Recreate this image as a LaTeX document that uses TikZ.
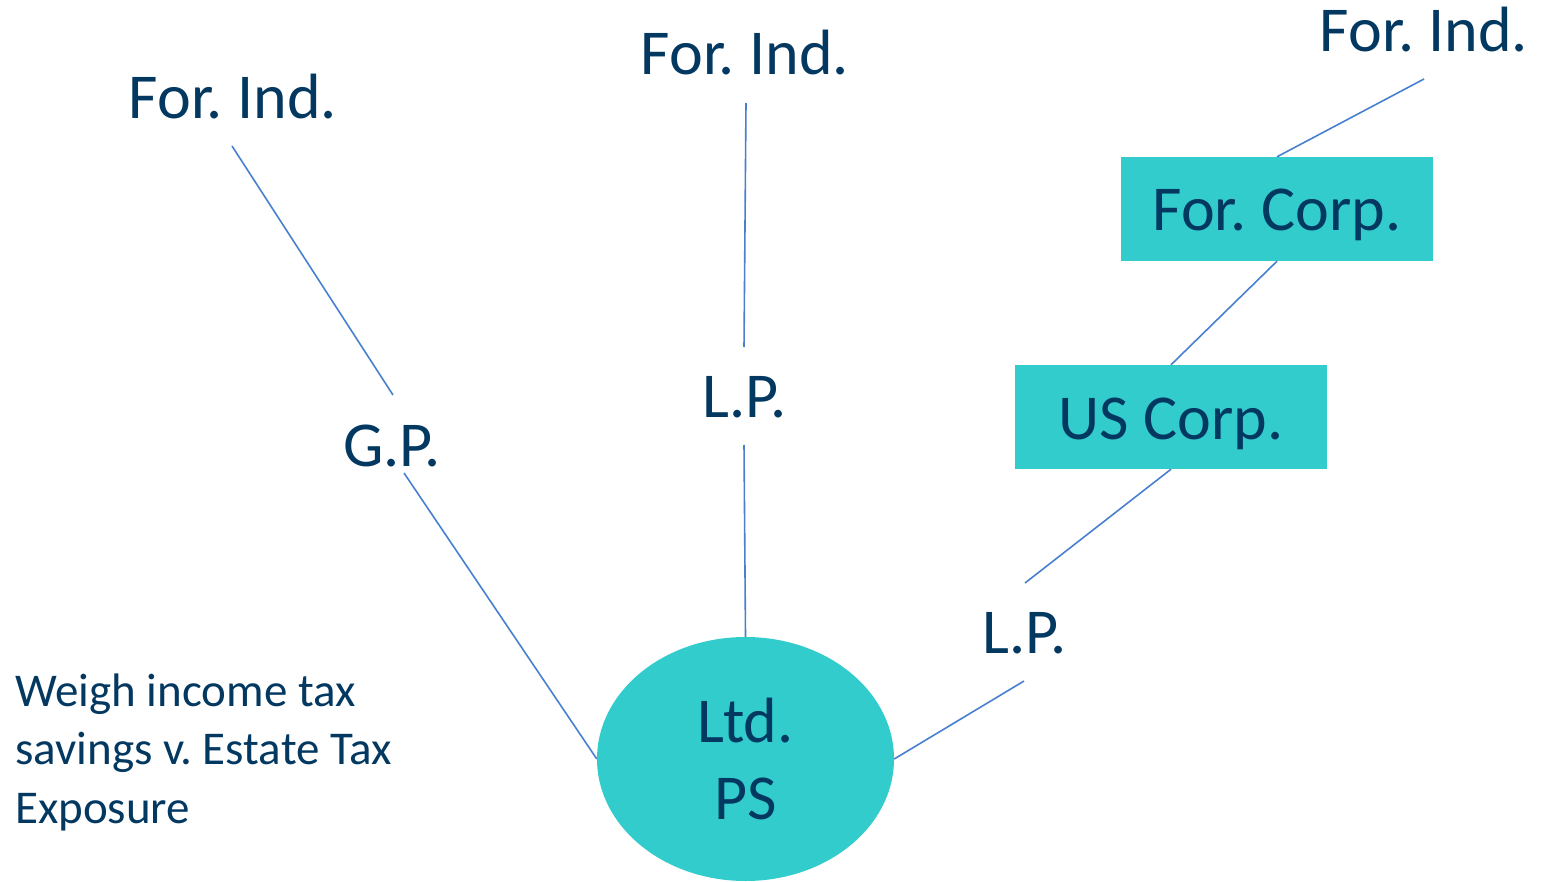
\documentclass[tikz,border=0pt]{standalone}
\usepackage{fontspec}
\setmainfont{Carlito}
\usetikzlibrary{shapes.geometric,calc}
\definecolor{navy}{RGB}{3,56,97}
\definecolor{teal1}{RGB}{51,204,204}
\definecolor{linkblue}{RGB}{72,128,208}
\begin{document}
\frenchspacing
\begin{tikzpicture}[x=1pt,y=-1pt,
  lbl/.style={inner sep=0pt,anchor=base,text=navy,font=\fontsize{64}{76}\selectfont},
  boxnode/.style={rectangle,fill=teal1,inner sep=0pt,minimum width=312,minimum height=104,
    text height=44,text depth=0,text=navy,font=\fontsize{64}{76}\selectfont},
  ellnode/.style={ellipse,fill=teal1,inner sep=0pt,minimum width=297,minimum height=244,
    align=center,text=navy,font=\fontsize{64}{77}\selectfont},
  link/.style={draw=linkblue,line width=1.6pt}]
\useasboundingbox (0,0) rectangle (1541,882);
% nodes
\node[lbl] (FI1) at (233,119) {For. Ind.};
\node[lbl] (GP) at (392,466) {G.P.};
\node[lbl] (FI2) at (745,75) {For. Ind.};
\node[lbl] (LP1) at (745,417) {L.P.};
\node[lbl] (LP2) at (1025,653) {L.P.};
\node[lbl] (FI3) at (1424,52) {For. Ind.};
\node[boxnode] (FC) at (1277,209) {For. Corp.};
\node[boxnode] (US) at (1171,417) {US Corp.};
\node[ellnode] (LPS) at (745.5,759) {Ltd.\\PS};
\node[inner sep=0pt,anchor=base west,align=left,text=navy,font=\fontsize{47}{58.5}\selectfont] (note) at (15,823)
  {Weigh income tax\\savings v. Estate Tax\\Exposure};
% connectors
\draw[link] ($(FI1.base)+(-1,27)$) -- ($(GP.base)+(1,-71)$);
\draw[link] ($(GP.base)+(12,7)$) -- (LPS.west);
\draw[link] ($(FI2.base)+(1,28)$) -- ($(LP1.base)+(-1,-70)$);
\draw[link] ($(LP1.base)+(-1,28)$) -- (LPS.north);
\draw[link] (LPS.east) -- ($(LP2.base)+(-1,28)$);
\draw[link] ($(LP2.base)+(0,-70)$) -- (US.south);
\draw[link] (US.north) -- (FC.south);
\draw[link] (FC.north) -- ($(FI3.base)+(0,27)$);
\end{tikzpicture}
\end{document}
